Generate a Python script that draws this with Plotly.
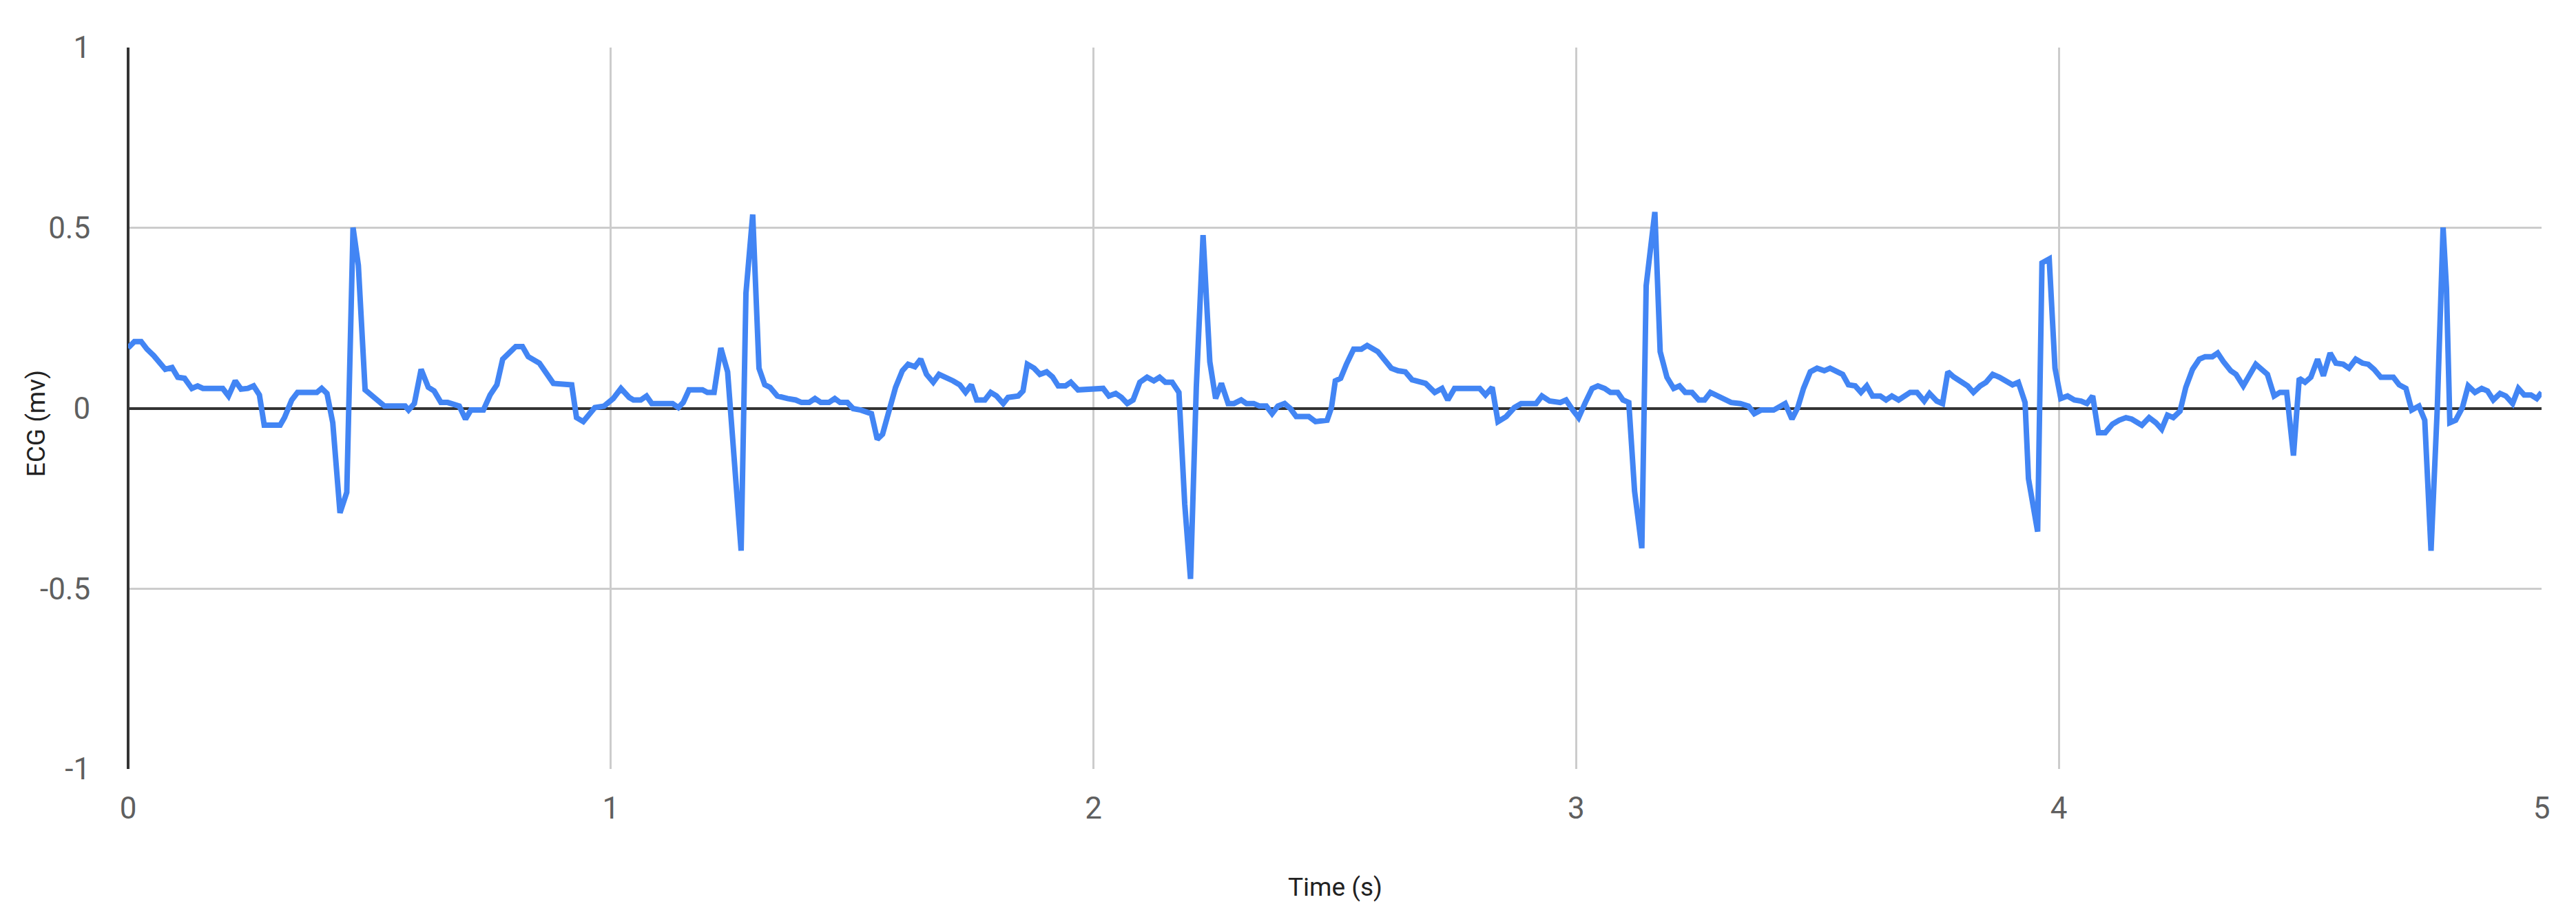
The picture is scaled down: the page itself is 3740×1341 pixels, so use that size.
import plotly.graph_objects as go

time_s = [
    0.000, 0.013, 0.027, 0.039, 0.053, 0.065, 0.077, 0.091, 0.103, 0.117, 0.132, 0.144, 0.155, 0.196,
    0.208, 0.222, 0.234, 0.248, 0.260, 0.272, 0.282, 0.315, 0.324, 0.339, 0.351, 0.391, 0.401, 0.412,
    0.424, 0.439, 0.453, 0.466, 0.477, 0.491, 0.505, 0.519, 0.531, 0.574, 0.581, 0.593, 0.607, 0.622,
    0.634, 0.648, 0.662, 0.686, 0.699, 0.710, 0.736, 0.750, 0.764, 0.776, 0.791, 0.803, 0.817, 0.829,
    0.852, 0.867, 0.881, 0.919, 0.929, 0.943, 0.967, 0.986, 1.005, 1.021, 1.038, 1.047, 1.062, 1.074,
    1.085, 1.128, 1.140, 1.150, 1.162, 1.190, 1.200, 1.214, 1.228, 1.242, 1.254, 1.270, 1.280, 1.294,
    1.307, 1.319, 1.330, 1.345, 1.366, 1.383, 1.395, 1.411, 1.423, 1.435, 1.452, 1.464, 1.475, 1.490,
    1.502, 1.518, 1.540, 1.552, 1.563, 1.578, 1.590, 1.604, 1.616, 1.630, 1.642, 1.654, 1.668, 1.680,
    1.694, 1.709, 1.723, 1.735, 1.747, 1.758, 1.775, 1.787, 1.799, 1.813, 1.823, 1.844, 1.854, 1.863,
    1.877, 1.889, 1.903, 1.915, 1.927, 1.942, 1.953, 1.968, 2.020, 2.032, 2.046, 2.058, 2.070, 2.082,
    2.096, 2.111, 2.125, 2.137, 2.149, 2.163, 2.177, 2.189, 2.201, 2.213, 2.227, 2.241, 2.253, 2.265,
    2.279, 2.291, 2.306, 2.317, 2.332, 2.344, 2.358, 2.370, 2.382, 2.396, 2.408, 2.420, 2.446, 2.460,
    2.484, 2.493, 2.501, 2.512, 2.524, 2.539, 2.555, 2.567, 2.589, 2.603, 2.617, 2.631, 2.646, 2.660,
    2.674, 2.688, 2.707, 2.722, 2.734, 2.748, 2.800, 2.812, 2.826, 2.838, 2.855, 2.872, 2.886, 2.917,
    2.929, 2.945, 2.967, 2.979, 2.993, 3.005, 3.019, 3.033, 3.045, 3.059, 3.071, 3.086, 3.097, 3.109,
    3.121, 3.136, 3.145, 3.163, 3.174, 3.188, 3.202, 3.214, 3.226, 3.240, 3.254, 3.266, 3.278, 3.292,
    3.307, 3.321, 3.340, 3.357, 3.369, 3.383, 3.409, 3.433, 3.447, 3.459, 3.471, 3.485, 3.499, 3.514,
    3.526, 3.540, 3.552, 3.564, 3.578, 3.590, 3.602, 3.614, 3.630, 3.642, 3.654, 3.668, 3.680, 3.692,
    3.706, 3.721, 3.732, 3.747, 3.759, 3.770, 3.782, 3.797, 3.811, 3.823, 3.837, 3.849, 3.863, 3.877,
    3.889, 3.904, 3.916, 3.930, 3.937, 3.956, 3.965, 3.980, 3.992, 4.004, 4.018, 4.032, 4.046, 4.058,
    4.070, 4.082, 4.096, 4.111, 4.125, 4.139, 4.151, 4.172, 4.187, 4.201, 4.213, 4.225, 4.237, 4.251,
    4.263, 4.277, 4.291, 4.303, 4.318, 4.329, 4.341, 4.356, 4.367, 4.382, 4.394, 4.408, 4.420, 4.432,
    4.446, 4.458, 4.472, 4.486, 4.498, 4.510, 4.522, 4.536, 4.548, 4.562, 4.574, 4.589, 4.601, 4.615,
    4.629, 4.641, 4.653, 4.667, 4.693, 4.705, 4.719, 4.731, 4.746, 4.758, 4.771, 4.784, 4.796, 4.803,
    4.810, 4.822, 4.836, 4.848, 4.862, 4.876, 4.888, 4.900, 4.914, 4.926, 4.940, 4.952, 4.964, 4.978,
    4.990, 5.000,
]
ecg_mv = [
    0.167, 0.185, 0.185, 0.164, 0.146, 0.129, 0.108, 0.113, 0.086, 0.083, 0.055, 0.062, 0.055, 0.055,
    0.034, 0.076, 0.053, 0.055, 0.062, 0.037, -0.047, -0.047, -0.026, 0.023, 0.044, 0.044, 0.055, 0.041,
    -0.040, -0.290, -0.233, 0.501, 0.396, 0.051, 0.034, 0.020, 0.006, 0.006, -0.005, 0.013, 0.108, 0.058,
    0.048, 0.016, 0.016, 0.006, -0.030, -0.005, -0.005, 0.037, 0.065, 0.136, 0.157, 0.171, 0.171, 0.143,
    0.125, 0.094, 0.069, 0.065, -0.026, -0.037, 0.002, 0.006, 0.027, 0.055, 0.030, 0.023, 0.023, 0.034,
    0.013, 0.013, 0.002, 0.016, 0.051, 0.051, 0.044, 0.044, 0.167, 0.101, -0.103, -0.395, 0.319, 0.537,
    0.111, 0.065, 0.058, 0.034, 0.027, 0.023, 0.016, 0.016, 0.027, 0.016, 0.016, 0.027, 0.016, 0.016,
    -0.001, -0.005, -0.015, -0.086, -0.072, 0.002, 0.058, 0.104, 0.122, 0.115, 0.136, 0.094, 0.072, 0.094,
    0.087, 0.076, 0.065, 0.044, 0.065, 0.023, 0.023, 0.044, 0.034, 0.013, 0.030, 0.034, 0.048, 0.122,
    0.111, 0.094, 0.101, 0.087, 0.062, 0.062, 0.072, 0.051, 0.055, 0.034, 0.041, 0.030, 0.013, 0.023,
    0.072, 0.086, 0.076, 0.086, 0.072, 0.072, 0.044, -0.265, -0.473, 0.058, 0.480, 0.129, 0.027, 0.069,
    0.013, 0.013, 0.023, 0.013, 0.013, 0.006, 0.006, -0.015, 0.006, 0.013, -0.001, -0.023, -0.023, -0.037,
    -0.033, 0.002, 0.076, 0.083, 0.122, 0.164, 0.164, 0.174, 0.157, 0.136, 0.111, 0.104, 0.101, 0.079,
    0.072, 0.069, 0.044, 0.055, 0.023, 0.055, 0.055, 0.037, 0.058, -0.037, -0.023, 0.002, 0.013, 0.013,
    0.034, 0.020, 0.016, 0.023, -0.005, -0.026, 0.016, 0.055, 0.062, 0.055, 0.044, 0.044, 0.023, 0.016,
    -0.230, -0.388, 0.340, 0.544, 0.157, 0.086, 0.055, 0.062, 0.044, 0.044, 0.023, 0.023, 0.044, 0.034,
    0.023, 0.016, 0.013, 0.006, -0.015, -0.005, -0.005, 0.013, -0.030, 0.002, 0.055, 0.101, 0.111, 0.104,
    0.111, 0.104, 0.094, 0.065, 0.062, 0.044, 0.062, 0.034, 0.034, 0.023, 0.034, 0.023, 0.034, 0.044,
    0.044, 0.020, 0.041, 0.020, 0.013, 0.101, 0.087, 0.076, 0.062, 0.044, 0.062, 0.072, 0.094, 0.086,
    0.076, 0.065, 0.072, 0.016, -0.195, -0.342, 0.403, 0.414, 0.111, 0.027, 0.034, 0.023, 0.020, 0.013,
    0.034, -0.068, -0.068, -0.044, -0.033, -0.026, -0.030, -0.047, -0.026, -0.040, -0.058, -0.019, -0.026, -0.008,
    0.058, 0.108, 0.136, 0.143, 0.143, 0.153, 0.129, 0.104, 0.094, 0.062, 0.090, 0.122, 0.108, 0.094,
    0.034, 0.044, 0.044, -0.131, 0.083, 0.072, 0.086, 0.136, 0.090, 0.153, 0.125, 0.122, 0.111, 0.136,
    0.125, 0.122, 0.108, 0.086, 0.086, 0.065, 0.055, -0.005, 0.006, -0.033, -0.395, 0.002, 0.501, 0.333,
    -0.040, -0.033, 0.002, 0.062, 0.044, 0.055, 0.048, 0.023, 0.041, 0.034, 0.013, 0.055, 0.037, 0.037,
    0.027, 0.044,
]

x_ticks = [0, 1, 2, 3, 4, 5]
y_ticks = [-1, -0.5, 0, 0.5, 1]

fig = go.Figure()
fig.add_trace(go.Scatter(
    x=time_s, y=ecg_mv, mode="lines",
    line=dict(color="#4285f4", width=8),
    showlegend=False, hoverinfo="x+y",
))

tick_font = dict(family="Roboto, Arial, sans-serif", size=44, color="#5f5f5f")
title_font = dict(family="Roboto, Arial, sans-serif", size=37, color="#222222")

# page body adds an 8px offset, margins compensate for it
fig.update_layout(
    width=3740, height=1341,
    margin=dict(l=178, r=58, t=61, b=233),
    paper_bgcolor="white", plot_bgcolor="white",
    xaxis=dict(
        range=[0, 5], tickvals=x_ticks, ticktext=[str(v) for v in x_ticks],
        showgrid=True, gridcolor="#cccccc", gridwidth=3,
        zeroline=True, zerolinecolor="#333333", zerolinewidth=4,
        showline=False, ticks="outside", ticklen=18, tickcolor="rgba(0,0,0,0)",
        tickfont=tick_font, fixedrange=True,
    ),
    yaxis=dict(
        range=[-1, 1], tickvals=y_ticks, ticktext=["-1", "-0.5", "0", "0.5", "1"],
        showgrid=True, gridcolor="#cccccc", gridwidth=3,
        zeroline=True, zerolinecolor="#333333", zerolinewidth=4,
        showline=False, ticks="outside", ticklen=45, tickcolor="rgba(0,0,0,0)",
        tickfont=tick_font, fixedrange=True,
    ),
    annotations=[
        dict(text="Time (s)", xref="paper", yref="paper", x=0.5, y=-0.164,
             showarrow=False, font=title_font, xanchor="center", yanchor="middle"),
        dict(text="ECG (mv)", xref="paper", yref="paper", x=-0.038, y=0.479,
             showarrow=False, font=title_font, textangle=-90,
             xanchor="center", yanchor="middle"),
    ],
)

fig.write_html("out.html")
